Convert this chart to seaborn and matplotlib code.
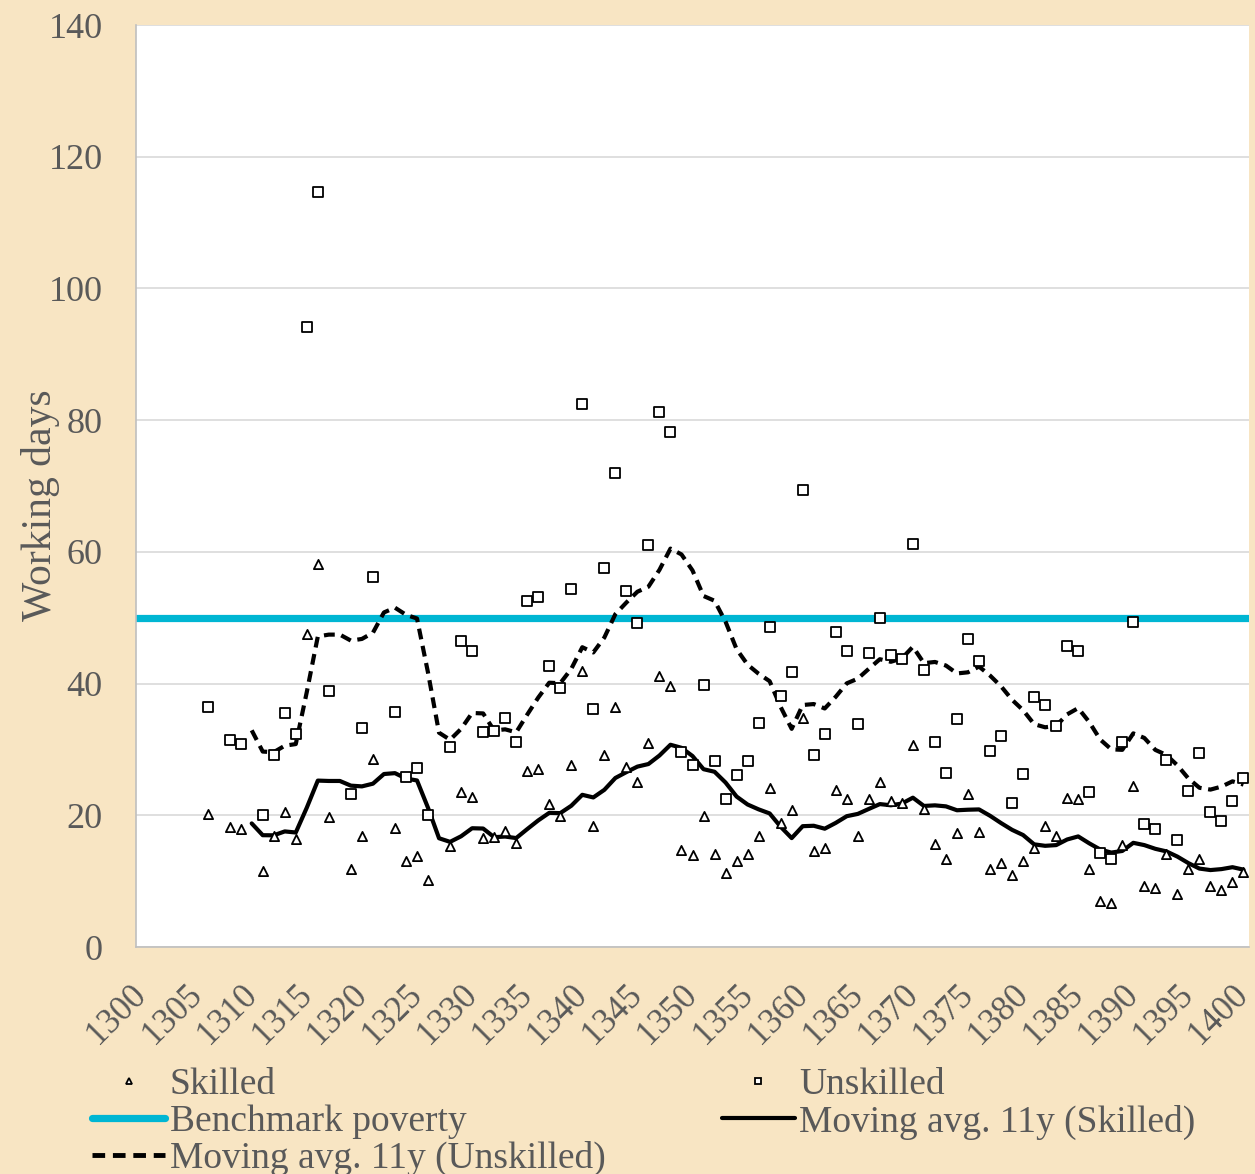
import numpy as np
import pandas as pd
import matplotlib
matplotlib.use("Agg")
import matplotlib.pyplot as plt
from matplotlib.lines import Line2D
import seaborn as sns

# Data (working days per year)
years = [1306, 1308, 1309, 1311, 1312, 1313, 1314, 1315, 1316, 1317,
         1319, 1320, 1321, 1323, 1324, 1325, 1326,
         1328, 1329, 1330, 1331, 1332, 1333, 1334, 1335, 1336, 1337,
         1338, 1339, 1340, 1341, 1342, 1343, 1344, 1345, 1346, 1347,
         1348, 1349, 1350, 1351, 1352, 1353, 1354, 1355, 1356, 1357,
         1358, 1359, 1360, 1361, 1362, 1363, 1364, 1365, 1366, 1367,
         1368, 1369, 1370, 1371, 1372, 1373, 1374, 1375, 1376, 1377,
         1378, 1379, 1380, 1381, 1382, 1383, 1384, 1385, 1386, 1387,
         1388, 1389, 1390, 1391, 1392, 1393, 1394, 1395, 1396, 1397,
         1398, 1399, 1400]

skilled = [20.2, 18.2, 17.9, 11.6, 16.9, 20.5, 16.4, 47.6, 58.1, 19.7,
           11.8, 16.9, 28.5, 18.1, 13.1, 13.8, 10.2,
           15.3, 23.6, 22.8, 16.5, 16.7, 17.6, 15.8, 26.7, 27.0, 21.7,
           19.9, 27.6, 41.9, 18.4, 29.2, 36.5, 27.4, 25.0, 31.0, 41.2,
           39.7, 14.8, 13.9, 19.9, 14.1, 11.2, 13.1, 14.1, 16.9, 24.2,
           18.9, 20.8, 34.7, 14.6, 15.0, 23.8, 22.4, 16.9, 22.4, 25.0,
           22.2, 21.8, 30.6, 20.9, 15.6, 13.3, 17.3, 23.3, 17.4, 11.8,
           12.8, 10.9, 13.1, 15.1, 18.4, 16.8, 22.7, 22.4, 11.8, 7.0,
           6.7, 15.5, 24.5, 9.3, 8.9, 14.1, 8.1, 11.8, 13.3, 9.3,
           8.6, 9.9, 11.4]

unskilled = [36.4, 31.4, 30.9, 20.0, 29.2, 35.5, 32.3, 94.1, 114.6, 38.9,
             23.2, 33.2, 56.2, 35.7, 25.8, 27.2, 20.1,
             30.3, 46.4, 44.9, 32.6, 32.8, 34.7, 31.2, 52.6, 53.1, 42.7,
             39.3, 54.3, 82.5, 36.2, 57.5, 71.9, 54.1, 49.2, 61.0, 81.2,
             78.2, 29.6, 27.6, 39.8, 28.2, 22.5, 26.1, 28.2, 34.0, 48.6,
             38.1, 41.7, 69.4, 29.2, 32.4, 47.8, 44.9, 33.9, 44.7, 50.0,
             44.3, 43.7, 61.2, 42.0, 31.2, 26.4, 34.6, 46.8, 43.5, 29.7,
             32.0, 21.8, 26.3, 37.9, 36.8, 33.5, 45.7, 45.0, 23.6, 14.2,
             13.4, 31.1, 49.3, 18.7, 17.9, 28.4, 16.2, 23.7, 29.5, 20.5,
             19.2, 22.2, 25.7]

benchmark = 50
ma_window = 11
ma_start = 1310
tick_years = list(range(1300, 1401, 5))
y_ticks = list(range(0, 141, 20))

df = pd.DataFrame({"Year": years, "Skilled": skilled, "Unskilled": unskilled})

# trailing 11-year moving average over the years that have data
full = df.set_index("Year").reindex(range(1300, 1401))
ma = full.rolling(ma_window, min_periods=1).mean().loc[ma_start:].reset_index()

beige = "#F8E5C3"
grey = "#595959"
cyan = "#00B6D3"
dash = (0, (2.6, 1.6))

sns.set_style("white")
plt.rcParams["font.family"] = ["Liberation Serif", "DejaVu Serif"]

fig = plt.figure(figsize=(12.55, 11.74), dpi=100, facecolor=beige)
ax = fig.add_axes([136 / 1255, 1 - 947 / 1174, 1113 / 1255, 922 / 1174])
ax.set_facecolor("white")

ax.axhline(benchmark, color=cyan, lw=5.2, zorder=2)
sns.lineplot(data=ma, x="Year", y="Skilled", color="black", lw=3,
             ax=ax, zorder=3)
sns.lineplot(data=ma, x="Year", y="Unskilled", color="black", lw=3,
             linestyle=dash, ax=ax, zorder=3)
sns.scatterplot(data=df, x="Year", y="Skilled", marker="^", s=44,
                color="white", edgecolor="black", linewidth=1.3,
                ax=ax, zorder=4)
sns.scatterplot(data=df, x="Year", y="Unskilled", marker="s", s=46,
                color="white", edgecolor="black", linewidth=1.3,
                ax=ax, zorder=4)

ax.set_xlim(1299.5, 1400.5)
ax.set_ylim(0, 140)

# y axis
ax.set_yticks(y_ticks)
ax.tick_params(axis="y", length=0, pad=24, labelsize=26, labelcolor=grey)
ax.grid(axis="y", color="#D9D9D9", lw=1.2)
ax.set_axisbelow(True)
ax.set_ylabel("Working days", fontsize=30, color=grey)
ax.yaxis.set_label_coords(-0.068, 0.479)
ax.set_xlabel("")

# x axis: tick marks on category boundaries, labels on the years
ax.xaxis.remove_overlapping_locs = False
ax.set_xticks(np.arange(1299.5, 1401, 5))
ax.set_xticks(np.arange(1299.5, 1401, 2.5), minor=True)
ax.tick_params(axis="x", which="major", direction="out", length=7,
               width=1.2, color="#BFBFBF", labelbottom=False)
ax.tick_params(axis="x", which="minor", direction="in", length=5,
               width=1.2, color="#BFBFBF")

sec = ax.secondary_xaxis("bottom")
sec.set_xticks(tick_years)
sec.set_xticklabels([str(y) for y in tick_years], rotation=45,
                    ha="right", va="center", rotation_mode="anchor")
sec.tick_params(length=0, pad=31, labelsize=25, labelcolor=grey)
sec.spines["bottom"].set_visible(False)

for s in ["top", "right"]:
    ax.spines[s].set_visible(False)
for s in ["left", "bottom"]:
    ax.spines[s].set_color("#BFBFBF")
    ax.spines[s].set_linewidth(1.2)

handles = [
    Line2D([], [], ls="none", marker="^", ms=4.5, mfc="white", mec="black", mew=1.3),
    Line2D([], [], color=cyan, lw=5.2),
    Line2D([], [], color="black", lw=3.5, ls=dash),
    Line2D([], [], ls="none", marker="s", ms=4.5, mfc="white", mec="black", mew=1.3),
    Line2D([], [], color="black", lw=3),
]
labels = ["Skilled", "Benchmark poverty", "Moving avg. 11y (Unskilled)",
          "Unskilled", "Moving avg. 11y (Skilled)"]
fig.legend(handles, labels, ncol=2, loc="upper left",
           bbox_to_anchor=(92 / 1255, 1 - 1068 / 1174), frameon=False,
           fontsize=27, labelcolor=grey, handlelength=1.95,
           handletextpad=0.12, columnspacing=3.1, labelspacing=0.05,
           borderpad=0, borderaxespad=0)

fig.savefig("out.png", dpi=100, facecolor=beige)
